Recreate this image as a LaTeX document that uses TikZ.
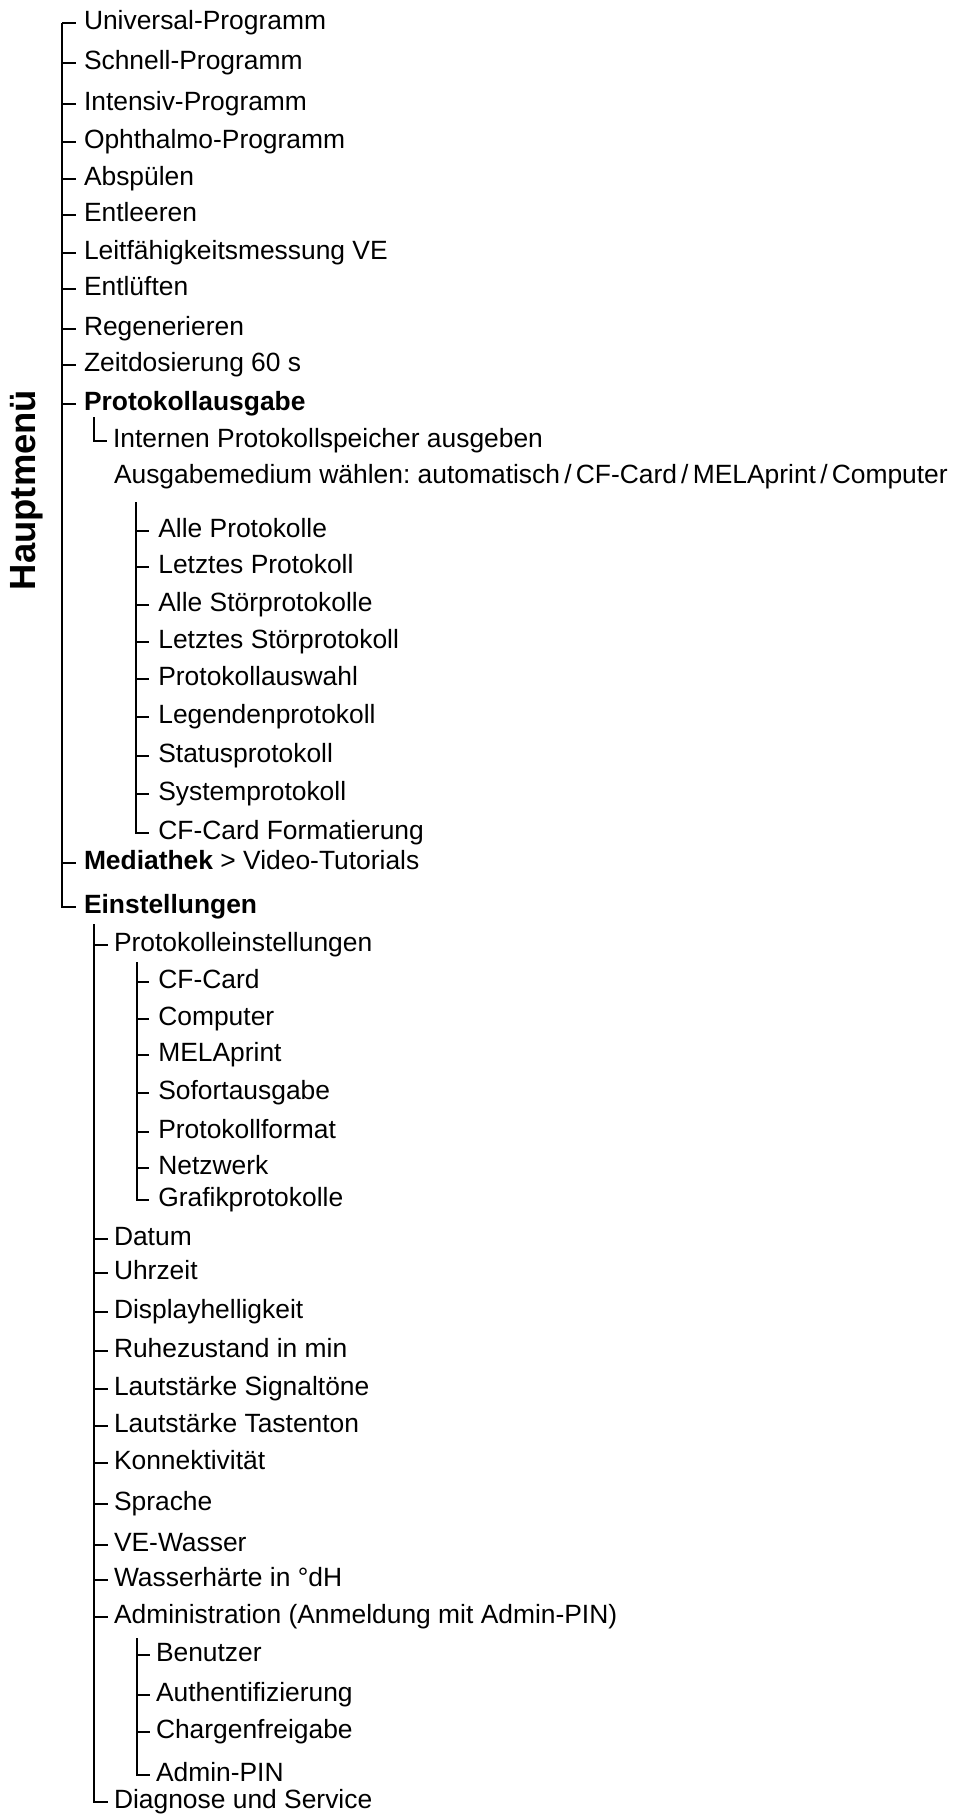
\documentclass[tikz,border=0pt]{standalone}
\usepackage{fontspec}
\setmainfont{Liberation Sans}
\begin{document}
\begin{tikzpicture}[x=0.75pt,y=-0.75pt,
    execute at begin picture={\fontsize{19.8pt}{24pt}\selectfont},
    every node/.style={inner ysep=0pt,outer sep=0pt,font=\fontsize{19.8pt}{24pt}\selectfont},
    lvl/.style={anchor=mid west,inner xsep=#1},
    lvl/.default=6pt,
    bus/.style={line width=2.2pt}]
  \useasboundingbox (0,0) rectangle (954,1816);
  \node[rotate=90,inner sep=0pt,font=\fontsize{27.3pt}{30pt}\selectfont\bfseries] (hm) at (27,490) {Hauptmenü};
  \draw
    (76,23) node[lvl] (m1){Universal-Programm}
    (76,63) node[lvl] (m2){Schnell-Programm}
    (76,104) node[lvl] (m3){Intensiv-Programm}
    (76,142) node[lvl] (m4){Ophthalmo-Programm}
    (76,179) node[lvl] (m5){Abspülen}
    (76,215) node[lvl] (m6){Entleeren}
    (76,253) node[lvl] (m7){Leitfähigkeitsmessung VE}
    (76,289) node[lvl] (m8){Entlüften}
    (76,329) node[lvl] (m9){Regenerieren}
    (76,365) node[lvl] (m10){Zeitdosierung 60 s}
    (76,404) node[lvl] (pa){\textbf{Protokollausgabe}}
    (76,863) node[lvl] (md){\textbf{Mediathek} > Video-Tutorials}
    (76,907) node[lvl] (es){\textbf{Einstellungen}};
  % Protokollausgabe
  \draw
    (107,441) node[lvl=4.5pt] (in){Internen Protokollspeicher ausgeben}
    (114,483) node[anchor=base west,inner sep=0pt] (am){Ausgabemedium wählen:\ automatisch\hspace{0.16em}/\hspace{0.16em}CF-Card\hspace{0.16em}/\hspace{0.16em}MELAprint\hspace{0.16em}/\hspace{0.16em}Computer}
    (149,531) node[lvl=7pt] (a1){Alle Protokolle}
    (149,567) node[lvl=7pt] (a2){Letztes Protokoll}
    (149,605) node[lvl=7pt] (a3){Alle Störprotokolle}
    (149,642) node[lvl=7pt] (a4){Letztes Störprotokoll}
    (149,679) node[lvl=7pt] (a5){Protokollauswahl}
    (149,717) node[lvl=7pt] (a6){Legendenprotokoll}
    (149,756) node[lvl=7pt] (a7){Statusprotokoll}
    (149,794) node[lvl=7pt] (a8){Systemprotokoll}
    (149,833) node[lvl=7pt] (a9){CF-Card Formatierung};
  % Einstellungen
  \draw
    (108,945) node[lvl=4.5pt] (e1){Protokolleinstellungen}
    (108,1239) node[lvl=4.5pt] (e2){Datum}
    (108,1273) node[lvl=4.5pt] (e3){Uhrzeit}
    (108,1312) node[lvl=4.5pt] (e4){Displayhelligkeit}
    (108,1351) node[lvl=4.5pt] (e5){Ruhezustand in min}
    (108,1389) node[lvl=4.5pt] (e6){Lautstärke Signaltöne}
    (108,1426) node[lvl=4.5pt] (e7){Lautstärke Tastenton}
    (108,1463) node[lvl=4.5pt] (e8){Konnektivität}
    (108,1504) node[lvl=4.5pt] (e9){Sprache}
    (108,1545) node[lvl=4.5pt] (e10){VE-Wasser}
    (108,1580) node[lvl=4.5pt] (e11){Wasserhärte in °dH}
    (108,1617) node[lvl=4.5pt] (e12){Administration (Anmeldung mit Admin-PIN)}
    (108,1802) node[lvl=4.5pt] (e13){Diagnose und Service}
    (149,982) node[lvl=7pt] (p1){CF-Card}
    (149,1019) node[lvl=7pt] (p2){Computer}
    (149,1055) node[lvl=7pt] (p3){MELAprint}
    (149,1093) node[lvl=7pt] (p4){Sofortausgabe}
    (149,1132) node[lvl=7pt] (p5){Protokollformat}
    (149,1168) node[lvl=7pt] (p6){Netzwerk}
    (149,1200) node[lvl=7pt] (p7){Grafikprotokolle}
    (150,1655) node[lvl=4.5pt] (d1){Benutzer}
    (150,1695) node[lvl=4.5pt] (d2){Authentifizierung}
    (150,1732) node[lvl=4.5pt] (d3){Chargenfreigabe}
    (150,1775) node[lvl=4.5pt] (d4){Admin-PIN};
  \coordinate (mb) at (62,23);
  \coordinate (ib) at (94,417);
  \coordinate (ab) at (136,502);
  \coordinate (eb) at (94,924);
  \coordinate (pb) at (137,962);
  \coordinate (db) at (137,1638);
  \begin{scope}[bus]
    \draw (mb) |- (m1.mid west);
    \draw (mb) |- (m2.mid west);
    \draw (mb) |- (m3.mid west);
    \draw (mb) |- (m4.mid west);
    \draw (mb) |- (m5.mid west);
    \draw (mb) |- (m6.mid west);
    \draw (mb) |- (m7.mid west);
    \draw (mb) |- (m8.mid west);
    \draw (mb) |- (m9.mid west);
    \draw (mb) |- (m10.mid west);
    \draw (mb) |- (pa.mid west);
    \draw (mb) |- (md.mid west);
    \draw (mb) |- (es.mid west);
    \draw[line width=1.2pt] (ib) |- (in.mid west);
    \draw (ab) |- (a1.mid west);
    \draw (ab) |- (a2.mid west);
    \draw (ab) |- (a3.mid west);
    \draw (ab) |- (a4.mid west);
    \draw (ab) |- (a5.mid west);
    \draw (ab) |- (a6.mid west);
    \draw (ab) |- (a7.mid west);
    \draw (ab) |- (a8.mid west);
    \draw (ab) |- (a9.mid west);
    \draw (eb) |- (e1.mid west);
    \draw (eb) |- (e2.mid west);
    \draw (eb) |- (e3.mid west);
    \draw (eb) |- (e4.mid west);
    \draw (eb) |- (e5.mid west);
    \draw (eb) |- (e6.mid west);
    \draw (eb) |- (e7.mid west);
    \draw (eb) |- (e8.mid west);
    \draw (eb) |- (e9.mid west);
    \draw (eb) |- (e10.mid west);
    \draw (eb) |- (e11.mid west);
    \draw (eb) |- (e12.mid west);
    \draw (eb) |- (e13.mid west);
    \draw (pb) |- (p1.mid west);
    \draw (pb) |- (p2.mid west);
    \draw (pb) |- (p3.mid west);
    \draw (pb) |- (p4.mid west);
    \draw (pb) |- (p5.mid west);
    \draw (pb) |- (p6.mid west);
    \draw (pb) |- (p7.mid west);
    \draw (db) |- (d1.mid west);
    \draw (db) |- (d2.mid west);
    \draw (db) |- (d3.mid west);
    \draw (db) |- (d4.mid west);
  \end{scope}
\end{tikzpicture}
\end{document}
